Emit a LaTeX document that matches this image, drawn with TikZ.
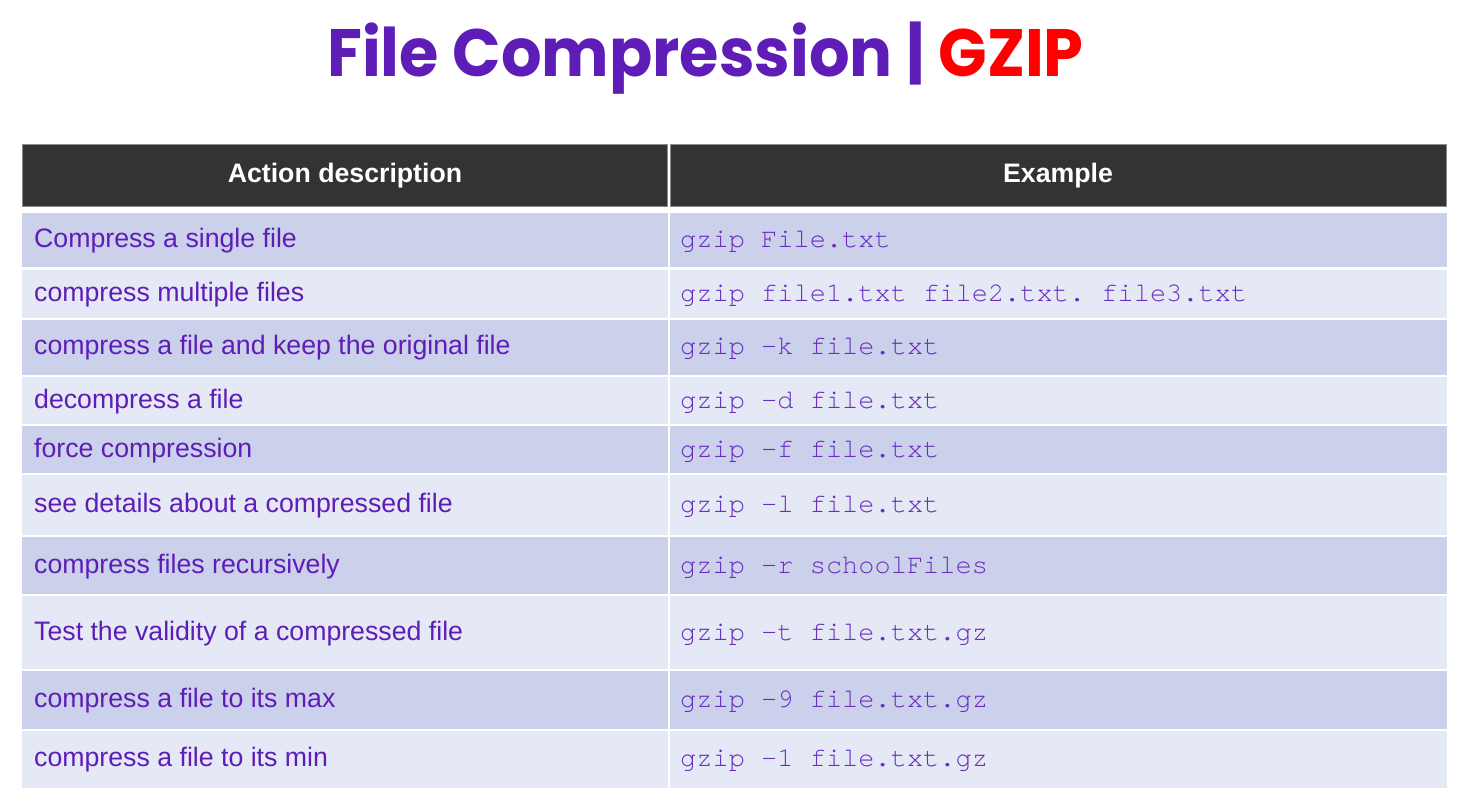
\documentclass[tikz,border=0pt]{standalone}
\usepackage{fontspec}
\setmainfont{Liberation Sans}
\setmonofont{TeX Gyre Cursor}[Ligatures=NoCommon]
\newfontfamily\titlefont{Poppins}
\definecolor{hdr}{HTML}{333333}
\definecolor{hdrline}{HTML}{8A8A8A}
\definecolor{rdark}{HTML}{CBD1EB}
\definecolor{rlight}{HTML}{E5E8F5}
\definecolor{ink}{RGB}{95,29,184}
\definecolor{codeink}{RGB}{105,45,192}
\definecolor{gzred}{HTML}{FF0000}
\tikzset{
  desc/.style={inner sep=0pt, text=ink, font=\fontsize{26.7}{32}\selectfont},
  code/.style={inner sep=0pt, text=codeink, font=\fontsize{27}{32}\selectfont\ttfamily},
  head/.style={inner sep=0pt, text=white, font=\fontsize{26.7}{32}\selectfont\bfseries},
  hcell/.style={fill=hdr, draw=hdrline, line width=1.2pt},
  titletext/.style={inner sep=0pt, font=\fontsize{67}{80}\selectfont\titlefont\bfseries}
}
\begin{document}
\begin{tikzpicture}[x=1pt,y=-1pt]
\useasboundingbox (0,0) rectangle (1466,810);
\fill[white] (0,0) rectangle (1466,810);
% title
\node[titletext, anchor=base, xscale=0.952] (title) at (705.5,77) {\textcolor{ink}{File Compression |} \textcolor{gzred}{GZIP}};
% header
\draw[hcell] (22.6,144.6) rectangle (667.4,206.6);
\draw[hcell] (670.6,144.6) rectangle (1446.4,206.6);
\node[head, anchor=base] (h1) at (345,183) {Action description};
\node[head, anchor=base] (h2) at (1058,183) {Example};
% rows
\foreach \ytop/\ybot/\col/\desctext/\codetext [count=\i] in {
  213/267.5/rdark/Compress a single file/gzip File.txt,
  270/317.5/rlight/compress multiple files/gzip file1.txt file2.txt. file3.txt,
  319.5/374.5/rdark/compress a file and keep the original file/gzip -k file.txt,
  377/424/rlight/decompress a file/gzip -d file.txt,
  426/473/rdark/force compression/gzip -f file.txt,
  475/534.5/rlight/see details about a compressed file/gzip -l file.txt,
  537/594/rdark/compress files recursively/gzip -r schoolFiles,
  596/669/rlight/Test the validity of a compressed file/gzip -t file.txt.gz,
  671/728.5/rdark/compress a file to its max/gzip -9 file.txt.gz,
  730.5/788/rlight/compress a file to its min/gzip -1 file.txt.gz}
{
  \fill[\col] (22,\ytop) rectangle (668,\ybot);
  \fill[\col] (670,\ytop) rectangle (1447,\ybot);
  \pgfmathsetmacro\ybase{(\ytop+\ybot)/2+7.5}
  \node[desc, anchor=base west] (d\i) at (34,\ybase) {\desctext};
  \node[code, anchor=base west] (c\i) at (680,\ybase) {\codetext};
}
\end{tikzpicture}
\end{document}
